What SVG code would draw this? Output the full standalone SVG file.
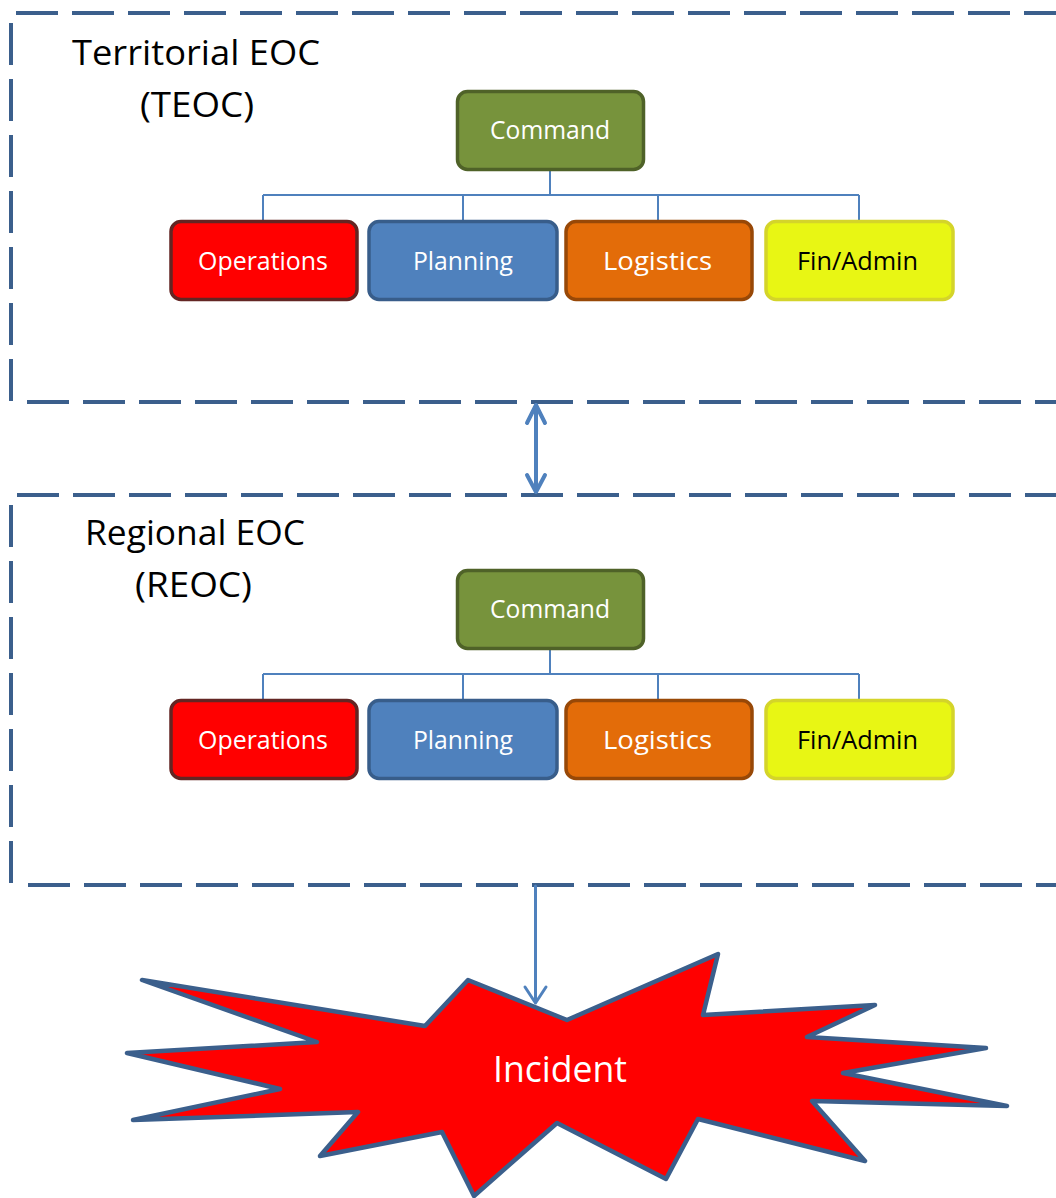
<svg xmlns="http://www.w3.org/2000/svg" width="1056" height="1198" viewBox="0 0 1056 1198">
<defs>
<style>
.frame{stroke:#3b5f8c;stroke-width:4;stroke-dasharray:42 14;fill:none}
.box{stroke-width:3.5}
.lbl{font-family:"Open Sans","Liberation Sans",sans-serif;font-size:25px;fill:#fff}
.title{font-family:"Open Sans","Liberation Sans",sans-serif;font-size:34px;fill:#000}
.tree{stroke:#4f81bd;stroke-width:2;fill:none}
.arr{stroke:#4f81bd;fill:none;stroke-linecap:round;stroke-linejoin:round}
</style>
</defs>
<rect width="1056" height="1198" fill="#fff"/>

<g id="frames">
<line class="frame" x1="16" y1="13" x2="1056" y2="13"/>
<line class="frame" x1="11" y1="23" x2="11" y2="402"/>
<line class="frame" x1="27" y1="402" x2="1056" y2="402"/>
<line class="frame" x1="17" y1="495" x2="1056" y2="495"/>
<line class="frame" x1="11" y1="505" x2="11" y2="885"/>
<line class="frame" x1="28" y1="885" x2="1056" y2="885"/>
</g>

<g id="connectors">
<path class="tree" d="M550,170 V195 M263,195 H859 M263,195 V220 M463,195 V220 M658,195 V220 M859,195 V220"/>
<path class="tree" d="M550,649 V674 M263,674 H859 M263,674 V699 M463,674 V699 M658,674 V699 M859,674 V699"/>
<path class="arr" stroke-width="4" d="M536,405 V492 M527,423 L536,405 L545,423 M527,475 L536,492 L545,475"/>
<path class="arr" stroke-width="3" d="M535.5,886 V1003 M525,987 L535.5,1003 L546,987"/>
</g>

<g id="teoc-title">
<text class="title" x="72" y="65" textLength="248" lengthAdjust="spacingAndGlyphs">Territorial EOC</text>
<text class="title" x="140" y="117" textLength="114" lengthAdjust="spacingAndGlyphs">(TEOC)</text>
</g>
<g id="teoc-command">
<rect class="box" x="457.5" y="91.5" width="186" height="78" rx="10" fill="#77933c" stroke="#4f6228"/>
<text class="lbl" x="490" y="139" textLength="120" lengthAdjust="spacingAndGlyphs">Command</text>
</g>
<g id="teoc-operations">
<rect class="box" x="171" y="221.5" width="186" height="78" rx="10" fill="#ff0000" stroke="#632523"/>
<text class="lbl" x="198" y="270" textLength="130" lengthAdjust="spacingAndGlyphs">Operations</text>
</g>
<g id="teoc-planning">
<rect class="box" x="369" y="221.5" width="188" height="78" rx="10" fill="#4f81bd" stroke="#385d8a"/>
<text class="lbl" x="413" y="270" textLength="100" lengthAdjust="spacingAndGlyphs">Planning</text>
</g>
<g id="teoc-logistics">
<rect class="box" x="566" y="221.5" width="186" height="78" rx="10" fill="#e36c09" stroke="#984807"/>
<text class="lbl" x="603" y="270" textLength="109" lengthAdjust="spacingAndGlyphs">Logistics</text>
</g>
<g id="teoc-finadmin">
<rect class="box" x="766" y="221.5" width="187" height="78" rx="10" fill="#e8f614" stroke="#d4d42a"/>
<text class="lbl" x="797" y="270" textLength="121" lengthAdjust="spacingAndGlyphs" style="fill:#000">Fin/Admin</text>
</g>

<g id="reoc-title">
<text class="title" x="85" y="545" textLength="220" lengthAdjust="spacingAndGlyphs">Regional EOC</text>
<text class="title" x="135" y="597" textLength="117" lengthAdjust="spacingAndGlyphs">(REOC)</text>
</g>
<g id="reoc-command">
<rect class="box" x="457.5" y="570.5" width="186" height="78" rx="10" fill="#77933c" stroke="#4f6228"/>
<text class="lbl" x="490" y="618" textLength="120" lengthAdjust="spacingAndGlyphs">Command</text>
</g>
<g id="reoc-operations">
<rect class="box" x="171" y="700.5" width="186" height="78" rx="10" fill="#ff0000" stroke="#632523"/>
<text class="lbl" x="198" y="749" textLength="130" lengthAdjust="spacingAndGlyphs">Operations</text>
</g>
<g id="reoc-planning">
<rect class="box" x="369" y="700.5" width="188" height="78" rx="10" fill="#4f81bd" stroke="#385d8a"/>
<text class="lbl" x="413" y="749" textLength="100" lengthAdjust="spacingAndGlyphs">Planning</text>
</g>
<g id="reoc-logistics">
<rect class="box" x="566" y="700.5" width="186" height="78" rx="10" fill="#e36c09" stroke="#984807"/>
<text class="lbl" x="603" y="749" textLength="109" lengthAdjust="spacingAndGlyphs">Logistics</text>
</g>
<g id="reoc-finadmin">
<rect class="box" x="766" y="700.5" width="187" height="78" rx="10" fill="#e8f614" stroke="#d4d42a"/>
<text class="lbl" x="797" y="749" textLength="121" lengthAdjust="spacingAndGlyphs" style="fill:#000">Fin/Admin</text>
</g>

<g id="incident">
<polygon points="142,980 425,1026 468,980 567,1020 718,954 703,1015 875,1005 807,1037 986,1048 843,1073 1007,1106 812,1101 865,1161 698,1119 666,1179 557,1123 474,1196 442,1132 320,1156 358,1112 133,1120 280,1089 127,1053 317,1042" fill="#ff0000" stroke="#3b5f8c" stroke-width="4.5" stroke-linejoin="round"/>
<text x="493" y="1082" textLength="134" lengthAdjust="spacingAndGlyphs" style="font-family:'Open Sans','Liberation Sans',sans-serif;font-size:37px;fill:#fff">Incident</text>
</g>
</svg>
